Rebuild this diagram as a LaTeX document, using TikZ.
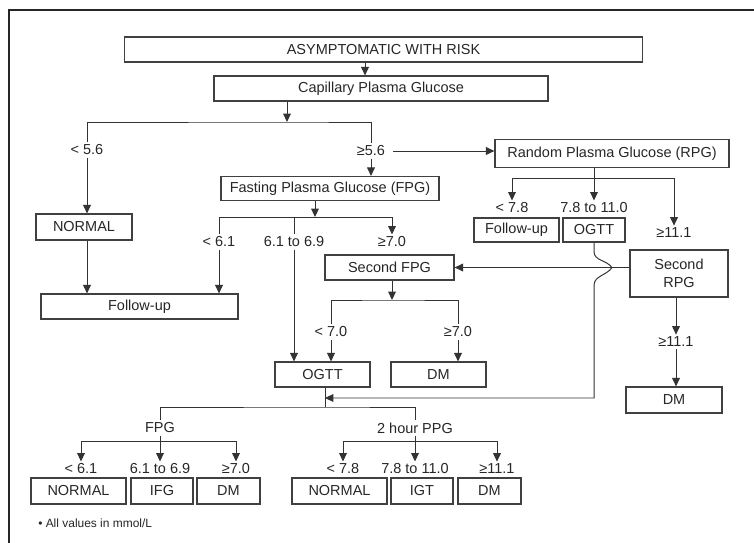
\documentclass[tikz,border=0pt]{standalone}
\usepackage{fontspec}
\setmainfont{Liberation Sans}
\usetikzlibrary{arrows.meta}

\begin{document}
\begin{tikzpicture}[
    x=0.025cm, y=-0.025cm,
    box/.style={rectangle, draw=black!75, line width=0.8pt, minimum height=0.625cm, inner sep=0pt, text=black!85, font=\fontsize{10.3}{12.5}\selectfont, align=center},
    lbl/.style={inner sep=1.5pt, text=black!85, font=\fontsize{10.3}{12.5}\selectfont},
    ln/.style={draw=black!80, line width=0.7pt},
    arr/.style={ln, -{Triangle[length=6pt,width=5.5pt]}},
]
\useasboundingbox (0,0) rectangle (754,543);
\draw[black!85, line width=1.3pt] (9,543) -- (9,10) -- (754,10);

\node[box, minimum width=12.925cm] (asym) at (383.5,49.5) {ASYMPTOMATIC WITH RISK};
\node[box, minimum width=8.35cm] (cap) at (381,88.5) {Capillary Plasma Glucose};
\coordinate (k0) at (365,70);
\draw[arr] (asym.south -| k0) -- (cap.north -| k0);

\coordinate (k1) at (287,122);
\node[lbl] (lt56) at (87,150) {< 5.6};
\node[lbl] (ge56) at (371,151) {≥5.6};
\draw[arr] (cap.south -| k1) -- (k1);
\draw[ln] (lt56.north) |- (k1) -| (ge56.north);

\node[box, minimum width=2.4cm, minimum height=0.65cm] (nrm1) at (84,227) {NORMAL};
\node[box, minimum width=4.925cm] (fup1) at (139.5,306.5) {Follow-up};
\draw[arr] (lt56.south) -- (lt56.south |- nrm1.north);
\draw[arr] (lt56 |- nrm1.south) -- (lt56 |- fup1.north);

\node[box, minimum width=5.45cm, minimum height=0.6cm] (fpg) at (330,188.5) {Fasting Plasma Glucose (FPG)};
\node[box, minimum width=5.85cm, minimum height=0.7cm] (rpg) at (612,153.5) {Random Plasma Glucose (RPG)};
\draw[arr] (ge56.south) -- (ge56.south |- fpg.north);
\draw[arr] ([xshift=4pt]ge56.east) -- (ge56.east -| rpg.west);

\coordinate (k2) at (315,217);
\node[lbl] (lt61) at (219,242) {< 6.1};
\node[lbl] (r6169) at (294,242) {6.1 to 6.9};
\node[lbl] (ge70a) at (392,242) {≥7.0};
\draw[arr] (fpg.south -| k2) -- (k2);
\draw[ln] (lt61.north) |- (k2);
\draw[arr] (k2) -| (ge70a.north);
\draw[ln] (r6169.north) -- (r6169.north |- k2);
\draw[arr] (lt61.south) -- (lt61.south |- fup1.north);

\node[box, minimum width=3.225cm] (sfpg) at (389.5,267.5) {Second FPG};
\node[box, minimum width=2.375cm] (ogtt1) at (322.5,374.5) {OGTT};
\node[box, minimum width=2.375cm] (dm1) at (438.5,374.5) {DM};
\draw[arr] (r6169.south) -- (r6169.south |- ogtt1.north);

\coordinate (k3) at (392,300);
\node[lbl] (lt70) at (331,332) {< 7.0};
\node[lbl] (ge70b) at (458,332) {≥7.0};
\draw[arr] (sfpg.south -| k3) -- (k3);
\draw[ln] (lt70.north) |- (k3) -| (ge70b.north);
\draw[arr] (lt70.south) -- (lt70.south |- ogtt1.north);
\draw[arr] (ge70b.south) -- (ge70b.south |- dm1.north);

\coordinate (k4) at (594,178);
\node[lbl] (lt78a) at (512,208) {< 7.8};
\node[lbl] (r7811a) at (594,208) {7.8 to 11.0};
\node[lbl] (ge111a) at (674,233) {≥11.1};
\draw[arr] (rpg.south -| r7811a) -- (r7811a.north);
\draw[arr] (k4) -| (lt78a.north);
\draw[arr] (k4) -| (ge111a.north);

\node[box, minimum width=2.125cm, minimum height=0.6cm] (fup2) at (516.5,230) {Follow-up};
\node[box, minimum width=1.55cm, minimum height=0.6cm] (ogtt2) at (594,230) {OGTT};
\node[box, minimum width=2.45cm, minimum height=1.175cm] (srpg) at (679,273.5) {Second\\RPG};
\draw[arr] (srpg.west |- sfpg.east) -- (sfpg.east);

\node[lbl] (ge111b) at (676,342) {≥11.1};
\node[box, minimum width=2.4cm, minimum height=0.65cm] (dm2) at (674,400) {DM};
\draw[arr] (srpg.south -| ge111b) -- (ge111b.north);
\draw[arr] (ge111b.south) -- (ge111b.south |- dm2.north);

\coordinate (k5) at (325,407);
\coordinate (k6) at (325,398);
\draw[arr] (ogtt2.south) -- ++(0,9) to[out=-90,in=125] ++(18,16) to[out=-125,in=90] ++(-18,18) |- (k6);
\draw[ln] (ogtt1.south -| k5) -- (k5);

\node[lbl] (fpgb) at (160,428) {FPG};
\node[lbl] (ppg) at (415,428) {2 hour PPG};
\draw[ln] (fpgb.north) |- (k5) -| (ppg.north);

\coordinate (k7) at (160,441);
\node[lbl] (l61) at (81,469) {< 6.1};
\node[lbl] (l6169) at (160,469) {6.1 to 6.9};
\node[lbl] (l70) at (236,469) {≥7.0};
\draw[arr] (fpgb.south) -- (l6169.north);
\draw[arr] (k7) -| (l61.north);
\draw[arr] (k7) -| (l70.north);

\coordinate (k8) at (415,441);
\node[lbl] (l78) at (343,469) {< 7.8};
\node[lbl] (l7811) at (415,469) {7.8 to 11.0};
\node[lbl] (l111) at (497,469) {≥11.1};
\draw[arr] (ppg.south) -- (l7811.north);
\draw[arr] (k8) -| (l78.north);
\draw[arr] (k8) -| (l111.north);

\node[box, minimum width=2.375cm, minimum height=0.65cm] (nrm3) at (78.5,491) {NORMAL};
\node[box, minimum width=1.55cm, minimum height=0.65cm] (ifg) at (162,491) {IFG};
\node[box, minimum width=1.575cm, minimum height=0.65cm] (dm3) at (228.5,491) {DM};
\node[box, minimum width=2.375cm, minimum height=0.65cm] (nrm4) at (339.5,491) {NORMAL};
\node[box, minimum width=1.55cm, minimum height=0.65cm] (igt) at (422,491) {IGT};
\node[box, minimum width=1.575cm, minimum height=0.65cm] (dm4) at (489.5,491) {DM};

\node[anchor=west, inner sep=0pt, text=black!85, font=\fontsize{8.5}{10}\selectfont] (note) at (38,523) {• All values in mmol/L};
\end{tikzpicture}
\end{document}
